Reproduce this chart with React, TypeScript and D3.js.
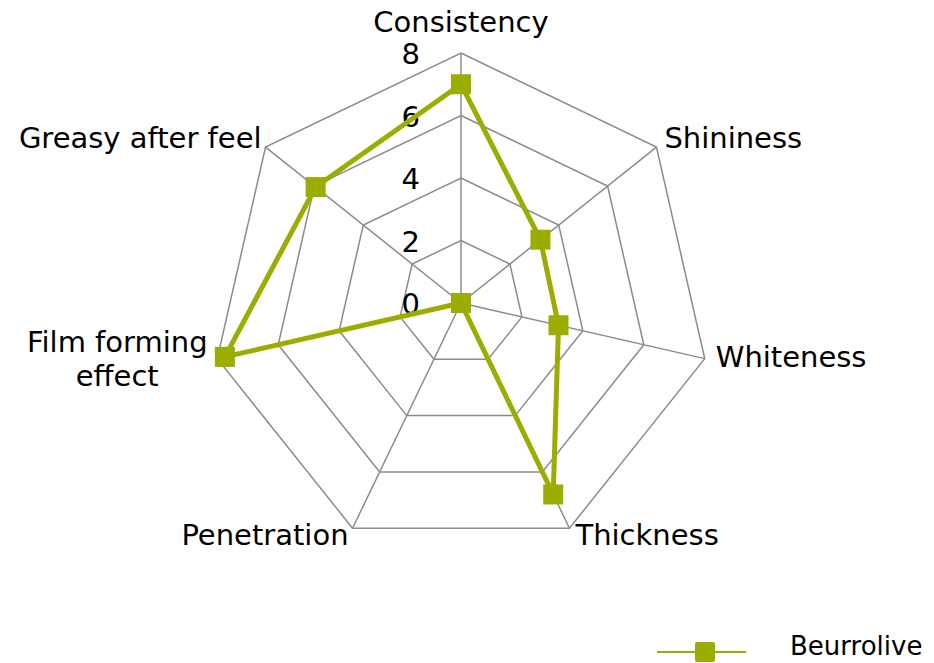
import React from 'react';
import * as d3 from 'd3';

// chart data
const attributes = ['Consistency', 'Shininess', 'Whiteness', 'Thickness', 'Penetration', 'Film forming effect', 'Greasy after feel'];
const beurrolive = [7, 3.25, 3.2, 6.8, 0, 7.75, 5.95];
const ticks = [0, 2, 4, 6, 8];
const seriesName = 'Beurrolive';

const W = 934, H = 663;
const cx = 461, cy = 303, R = 250;
const green = '#9bad00';
const font = 'DejaVu Sans, Verdana, sans-serif';

export default function App() {
  const r = d3.scaleLinear().domain([0, 8]).range([0, R]);
  const angle = (i: number) => (i * 2 * Math.PI) / attributes.length;
  const pt = (i: number, v: number): [number, number] => [
    cx + r(v) * Math.sin(angle(i)),
    cy - r(v) * Math.cos(angle(i)),
  ];

  const line = d3.line<[number, number]>().curve(d3.curveLinearClosed);
  const ring = (v: number) => line(attributes.map((_, i) => pt(i, v))) as string;
  const series = line(beurrolive.map((v, i) => pt(i, v))) as string;

  // label placement per axis
  const labelPos = [
    { dx: 0, dy: -29, anchor: 'middle' },
    { dx: 8, dy: -7, anchor: 'start' },
    { dx: 11, dy: 0, anchor: 'start' },
    { dx: 6, dy: 9, anchor: 'start' },
    { dx: -4, dy: 9, anchor: 'end' },
    { dx: -100, dy: 2, anchor: 'middle' },
    { dx: -4, dy: -7, anchor: 'end' },
  ];

  return (
    <svg width={W} height={H} style={{ position: 'absolute', left: 0, top: 0, background: '#fff' }}
      fontFamily={font}>
      {ticks.filter(t => t > 0).map(t => (
        <path key={t} d={ring(t)} fill="none" stroke="#8c8c8c" strokeWidth={1.5} />
      ))}
      {attributes.map((_, i) => {
        const [x, y] = pt(i, 8);
        return <line key={i} x1={cx} y1={cy} x2={x} y2={y} stroke="#8c8c8c" strokeWidth={1.5} />;
      })}
      {ticks.map(t => (
        <text key={t} x={cx - 41} y={cy - r(t) + 3} textAnchor="end" dominantBaseline="middle"
          fontSize={29} fill="#000">{t}</text>
      ))}
      {attributes.map((a, i) => {
        const [x, y] = pt(i, 8);
        const p = labelPos[i];
        const words = a === 'Film forming effect' ? ['Film forming', 'effect'] : [a];
        return (
          <text key={a} x={x + p.dx} y={y + p.dy} textAnchor={p.anchor} fontSize={29} fill="#000"
            dominantBaseline="middle">
            {words.map((w, k) => (
              <tspan key={k} x={x + p.dx} dy={k === 0 ? (words.length > 1 ? -17 : 0) : 34}>{w}</tspan>
            ))}
          </text>
        );
      })}
      <path d={series} fill="none" stroke={green} strokeWidth={5} strokeLinejoin="round" />
      {beurrolive.map((v, i) => {
        const [x, y] = pt(i, v);
        return <rect key={i} x={x - 10} y={y - 10} width={20} height={20} fill={green} />;
      })}
      <g>
        <line x1={657} x2={746} y1={652} y2={652} stroke={green} strokeWidth={2} />
        <rect x={695} y={642} width={20} height={20} rx={2} fill={green} />
        <text x={790} y={647} fontSize={26} dominantBaseline="middle" fill="#000">{seriesName}</text>
      </g>
    </svg>
  );
}
